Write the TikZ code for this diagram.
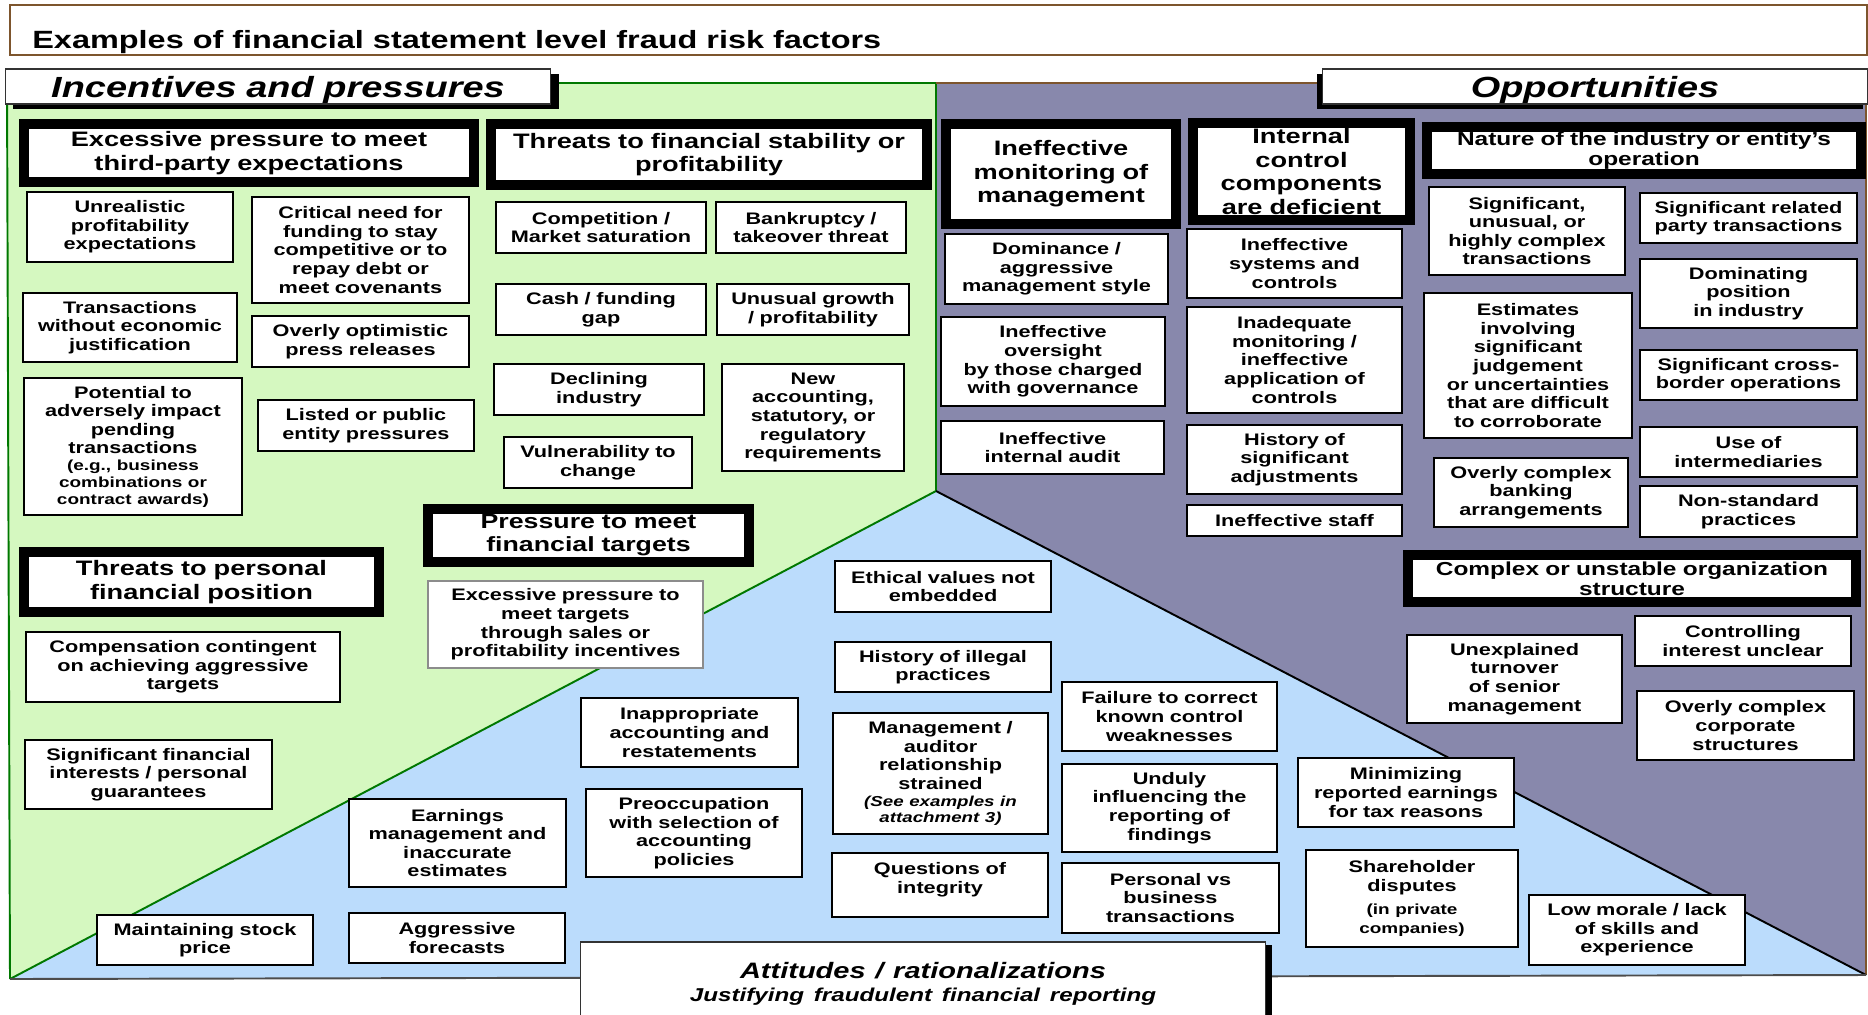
\documentclass[tikz,border=0pt]{standalone}
\usepackage{fontspec}
\setmainfont{Liberation Sans}[FakeStretch=1.3]
\usetikzlibrary{shadows}

\definecolor{incentgreen}{RGB}{213,248,192}
\definecolor{opportpurple}{RGB}{136,136,172}
\definecolor{attitblue}{RGB}{187,220,252}
\definecolor{linegreen}{RGB}{0,120,0}
\definecolor{framebrown}{RGB}{125,85,45}

\begin{document}
\begin{tikzpicture}[
  x=0.02cm, y=-0.02cm,
  factor/.style={draw=black, line width=0.9pt, fill=white, align=center, inner sep=0pt,
    font=\fontsize{9.5}{10.6}\selectfont\bfseries},
  category/.style={draw=black, line width=0.2cm, fill=white, align=center, inner sep=0pt,
    font=\fontsize{11.9}{13.3}\selectfont\bfseries},
  region/.style={draw=black!80, line width=0.6pt, fill=white, align=center, inner sep=0pt,
    text depth=0pt, font=\fontsize{16.6}{18}\selectfont\bfseries\itshape},
  divider/.style={line width=1.1pt}
]
\useasboundingbox (0,0) rectangle (1868,1014);

% Corners of the three areas
\coordinate (topleft) at (7,83);
\coordinate (topmid) at (936,83);
\coordinate (topright) at (1866,83);
\coordinate (apex) at (936,491);
\coordinate (botleft) at (10,979);
\coordinate (botright) at (1866,975);

\fill[incentgreen] (topleft) -- (topmid) -- (apex) -- (botleft) -- cycle;
\fill[opportpurple] (topmid) -- (topright) -- (botright) -- (apex) -- cycle;
\fill[attitblue] (botleft) -- (apex) -- (botright) -- cycle;

\draw[divider, linegreen] (botleft) -- (topleft) -- (topmid) -- (apex) -- (botleft);
\draw[divider, framebrown] (topmid) -- (topright) -- (botright);
\draw[divider, black] (apex) -- (botright);
\draw[divider, black!70] (botleft) -- (botright);

% Title
\node[draw=framebrown, line width=1.1pt, fill=white, minimum width=37.14cm, minimum height=1.00cm] (titlebox) at (938.5,30) {};
\node[anchor=base west, inner sep=0pt, font=\fontsize{14.2}{15}\selectfont\bfseries] (title) at (32,48)
  {Examples of financial statement level fraud risk factors};

% Area headers
\node[region, text width=10.92cm, minimum height=0.70cm,
  drop shadow={shadow xshift=0.16cm, shadow yshift=-0.1cm, fill=black, opacity=1}] (incent) at (278,86.5)
  {Incentives and pressures};
\node[region, text width=10.92cm, minimum height=0.70cm,
  drop shadow={shadow xshift=-0.1cm, shadow yshift=-0.1cm, fill=black, opacity=1}] (opport) at (1595,86.5)
  {Opportunities};
\node[region, text depth=, text width=13.72cm, minimum height=1.66cm,
  drop shadow={shadow xshift=0.12cm, shadow yshift=-0.06cm, fill=black, opacity=1}] (attit) at (923,983.5)
  {{\fontsize{12.7}{14}\selectfont Attitudes / rationalizations\par}
   {\fontsize{10.6}{13.1}\selectfont Justifying fraudulent financial reporting\par}};

% Incentives and pressures
\node[category, text width=9.00cm, minimum height=1.16cm] (excess) at (249,153)
  {Excessive pressure to meet\\third-party expectations};
\node[factor, text width=4.12cm, minimum height=1.40cm] (unreal) at (130,227)
  {Unrealistic\\profitability\\expectations};
\node[factor, text width=4.34cm, minimum height=2.12cm] (critical) at (360.5,250)
  {Critical need for\\funding to stay\\competitive or to\\repay debt or\\meet covenants};
\node[factor, text width=4.28cm, minimum height=1.38cm] (transact) at (130,327.5)
  {Transactions\\without economic\\justification};
\node[factor, text width=4.34cm, minimum height=1.02cm] (optim) at (360.5,341.5)
  {Overly optimistic\\press releases};
\node[factor, text width=4.36cm, minimum height=2.74cm] (potential) at (133,446.5)
  {Potential to\\adversely impact\\pending\\transactions\par
   {\fontsize{8.3}{9.5}\selectfont (e.g., business\\combinations or\\contract awards)\par}};
\node[factor, text width=4.32cm, minimum height=1.02cm] (listed) at (366,425.5)
  {Listed or public\\entity pressures};

\node[category, text width=8.72cm, minimum height=1.22cm] (stability) at (709,154.5)
  {Threats to financial stability or\\profitability};
\node[factor, text width=4.20cm, minimum height=1.02cm] (compet) at (601,227.5)
  {Competition /\\Market saturation};
\node[factor, text width=3.80cm, minimum height=1.02cm] (bankr) at (811,227.5)
  {Bankruptcy /\\takeover threat};
\node[factor, text width=4.20cm, minimum height=1.02cm] (cash) at (601,309.5)
  {Cash / funding\\gap};
\node[factor, text width=3.84cm, minimum height=1.02cm] (growth) at (813,309.5)
  {Unusual growth\\/ profitability};
\node[factor, text width=4.20cm, minimum height=1.02cm] (decline) at (599,389.5)
  {Declining\\industry};
\node[factor, text width=3.64cm, minimum height=2.14cm] (newacc) at (813,417.5)
  {New\\accounting,\\statutory, or\\regulatory\\requirements};
\node[factor, text width=3.76cm, minimum height=1.02cm] (vulner) at (598,462.5)
  {Vulnerability to\\change};

\node[category, text width=7.10cm, minimum height=1.20cm] (perspos) at (201.5,582)
  {Threats to personal\\financial position};
\node[factor, text width=6.28cm, minimum height=1.40cm] (compens) at (183,667)
  {Compensation contingent\\on achieving aggressive\\targets};
\node[factor, text width=4.94cm, minimum height=1.38cm] (sigfin) at (148.5,774.5)
  {Significant financial\\interests / personal\\guarantees};

\node[category, font=\fontsize{11.7}{12.9}\selectfont\bfseries, text width=6.42cm, minimum height=1.06cm] (targets) at (588.5,535)
  {Pressure to meet\\financial targets};
\node[factor, draw=black!45, text width=5.50cm, minimum height=1.74cm] (salesinc) at (565.5,624.5)
  {Excessive pressure to\\meet targets\\through sales or\\profitability incentives};

% Opportunities
\node[category, text width=4.60cm, minimum height=2.00cm] (monitor) at (1061,174)
  {Ineffective\\monitoring of\\management};
\node[factor, text width=4.46cm, minimum height=1.40cm] (dominance) at (1056.5,269)
  {Dominance /\\aggressive\\management style};
\node[factor, text width=4.48cm, minimum height=1.78cm] (oversight) at (1053,361.5)
  {Ineffective\\oversight\\by those charged\\with governance};
\node[factor, text width=4.46cm, minimum height=1.06cm] (intaudit) at (1052.5,447.5)
  {Ineffective\\internal audit};

\node[category, text width=4.34cm, minimum height=1.94cm] (internal) at (1301.5,171.5)
  {Internal\\control\\components\\are deficient};
\node[factor, text width=4.30cm, minimum height=1.38cm] (systems) at (1294.5,263.5)
  {Ineffective\\systems and\\controls};
\node[factor, text width=4.30cm, minimum height=2.12cm] (inadeq) at (1294.5,360)
  {Inadequate\\monitoring /\\ineffective\\application of\\controls};
\node[factor, text width=4.30cm, minimum height=1.38cm] (history) at (1294.5,459.5)
  {History of\\significant\\adjustments};
\node[factor, text width=4.30cm, minimum height=0.62cm] (staff) at (1294.5,520.5)
  {Ineffective staff};

\node[category, font=\fontsize{10.7}{11.2}\selectfont\bfseries, text width=8.68cm, minimum height=0.94cm] (nature) at (1644,150.5)
  {Nature of the industry or entity’s\\operation};
\node[factor, text width=3.92cm, minimum height=1.76cm] (unusualtx) at (1527,231)
  {Significant,\\unusual, or\\highly complex\\transactions};
\node[factor, text width=4.34cm, minimum height=1.00cm] (related) at (1748.5,218)
  {Significant related\\party transactions};
\node[factor, text width=4.34cm, minimum height=1.38cm] (dominate) at (1748.5,293.5)
  {Dominating\\position\\in industry};
\node[factor, text width=4.16cm, minimum height=2.90cm] (estimates) at (1528,365.5)
  {Estimates\\involving\\significant\\judgement\\or uncertainties\\that are difficult\\to corroborate};
\node[factor, text width=4.34cm, minimum height=1.00cm] (crossb) at (1748.5,375)
  {Significant cross-\\border operations};
\node[factor, text width=4.34cm, minimum height=1.00cm] (intermed) at (1748.5,452)
  {Use of\\intermediaries};
\node[factor, text width=3.88cm, minimum height=1.38cm] (banking) at (1531,492.5)
  {Overly complex\\banking\\arrangements};
\node[factor, text width=4.34cm, minimum height=1.02cm] (nonstd) at (1748.5,511.5)
  {Non-standard\\practices};

\node[category, font=\fontsize{10.7}{11.2}\selectfont\bfseries, text width=8.96cm, minimum height=0.94cm] (complex) at (1632,578.5)
  {Complex or unstable organization\\structure};
\node[factor, text width=4.32cm, minimum height=1.00cm] (control) at (1743,641)
  {Controlling\\interest unclear};
\node[factor, text width=4.30cm, minimum height=1.76cm] (turnover) at (1514.5,679)
  {Unexplained\\turnover\\of senior\\management};
\node[factor, text width=4.34cm, minimum height=1.38cm] (corpstruct) at (1745.5,725.5)
  {Overly complex\\corporate\\structures};

% Attitudes / rationalizations
\node[factor, text width=4.32cm, minimum height=1.00cm] (stock) at (205,940)
  {Maintaining stock\\price};
\node[factor, text width=4.34cm, minimum height=1.76cm] (earnings) at (457.5,843)
  {Earnings\\management and\\inaccurate\\estimates};
\node[factor, text width=4.32cm, minimum height=1.00cm] (forecast) at (457,938)
  {Aggressive\\forecasts};
\node[factor, text width=4.34cm, minimum height=1.38cm] (inapprop) at (689.5,732.5)
  {Inappropriate\\accounting and\\restatements};
\node[factor, text width=4.32cm, minimum height=1.76cm] (preocc) at (694,833)
  {Preoccupation\\with selection of\\accounting\\policies};
\node[factor, text width=4.32cm, minimum height=1.02cm] (ethical) at (943,586.5)
  {Ethical values not\\embedded};
\node[factor, text width=4.32cm, minimum height=1.00cm] (illegal) at (943,667)
  {History of illegal\\practices};
\node[factor, text width=4.30cm, minimum height=2.42cm] (auditor) at (940.5,773.5)
  {Management /\\auditor\\relationship\\strained\par
   {\fontsize{8.2}{9.5}\selectfont\itshape (See examples in\\attachment 3)\par}};
\node[factor, text width=4.32cm, minimum height=1.28cm] (integrity) at (940,885)
  {Questions of\\integrity\par\kern6pt};
\node[factor, text width=4.30cm, minimum height=1.38cm] (failure) at (1169.5,716.5)
  {Failure to correct\\known control\\weaknesses};
\node[factor, text width=4.30cm, minimum height=1.76cm] (unduly) at (1169.5,808)
  {Unduly\\influencing the\\reporting of\\findings};
\node[factor, text width=4.34cm, minimum height=1.40cm] (personal) at (1170.5,898)
  {Personal vs\\business\\transactions};
\node[factor, text width=4.32cm, minimum height=1.38cm] (minimize) at (1406,792.5)
  {Minimizing\\reported earnings\\for tax reasons};
\node[factor, text width=4.24cm, minimum height=1.94cm] (sharehold) at (1412,898.5)
  {Shareholder\\disputes\par\vspace{3pt}
   {\fontsize{8.3}{10.6}\selectfont (in private\\companies)\par}};
\node[factor, text width=4.32cm, minimum height=1.40cm] (morale) at (1637,930)
  {Low morale / lack\\of skills and\\experience};

\end{tikzpicture}
\end{document}
